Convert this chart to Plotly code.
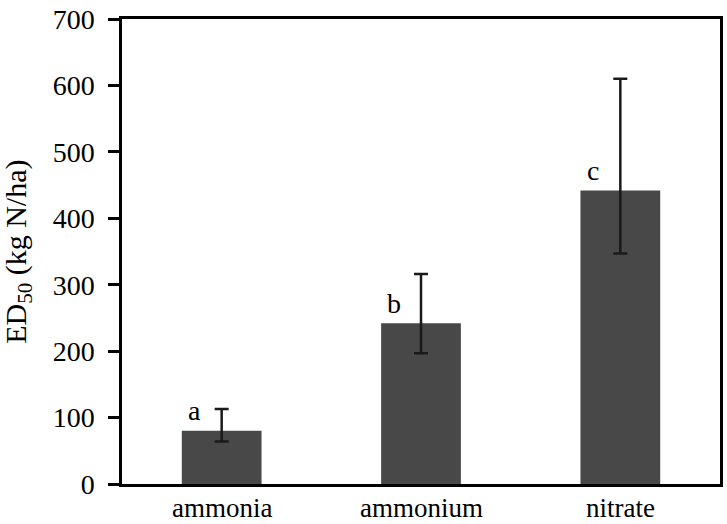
import plotly.graph_objects as go

# | data section |
categories = ["ammonia", "ammonium", "nitrate"]
ed50 = [80, 242, 442]
err_plus = [33, 74, 168]
err_minus = [16, 45, 95]
letters = ["a", "b", "c"]
y_title = "ED<sub>50</sub> (kg N/ha)"

font_family = "Liberation Serif, Times New Roman, serif"

# | graph section |
fig = go.Figure()

fig.add_trace(
    go.Bar(
        x=categories,
        y=ed50,
        width=0.4,
        marker={"color": "#484848", "line": {"width": 0}},
        error_y={
            "type": "data",
            "symmetric": False,
            "array": err_plus,
            "arrayminus": err_minus,
            "color": "#1a1a1a",
            "thickness": 2.5,
            "width": 7,
        },
        showlegend=False,
    )
)

# significance letters left of each error bar
for i, (val, lab) in enumerate(zip(ed50, letters)):
    fig.add_annotation(
        x=i - 0.135,
        y=val + 30,
        text=lab,
        showarrow=False,
        xanchor="center",
        yanchor="middle",
        font={"family": font_family, "size": 28, "color": "black"},
    )

# category labels drawn as annotations so they sit tight under the axis
for cat in categories:
    fig.add_annotation(
        x=cat,
        y=-0.051,
        yref="paper",
        text=cat,
        showarrow=False,
        xanchor="center",
        yanchor="middle",
        font={"family": font_family, "size": 27, "color": "black"},
    )

# y axis title, placed by hand close to the left edge
fig.add_annotation(
    x=-0.175,
    y=0.5,
    xref="paper",
    yref="paper",
    text=y_title,
    textangle=-90,
    showarrow=False,
    xanchor="center",
    yanchor="middle",
    font={"family": font_family, "size": 30, "color": "black"},
)

axis_common = dict(
    showline=True,
    linecolor="black",
    linewidth=2.5,
    mirror=True,
    showgrid=False,
    zeroline=False,
    tickcolor="black",
    tickwidth=2.5,
    ticklabeloverflow="allow",
)

fig.update_xaxes(
    range=[-0.5, 2.5],
    ticks="",
    showticklabels=False,
    **axis_common,
)
fig.update_yaxes(
    range=[0, 700],
    dtick=100,
    ticks="outside",
    ticklen=11,
    ticklabelstandoff=8,
    tickfont={"family": font_family, "size": 28, "color": "black"},
    **axis_common,
)

fig.update_layout(
    width=727,
    height=524,
    margin={"l": 122, "r": 4, "t": 14, "b": 40},
    paper_bgcolor="white",
    plot_bgcolor="white",
    bargap=0.6,
)

# drop the default page margin so the figure sits at the window's corner
fig.write_html(
    "out.html",
    config={"displayModeBar": False},
    post_script="document.body.style.margin='0';",
)
